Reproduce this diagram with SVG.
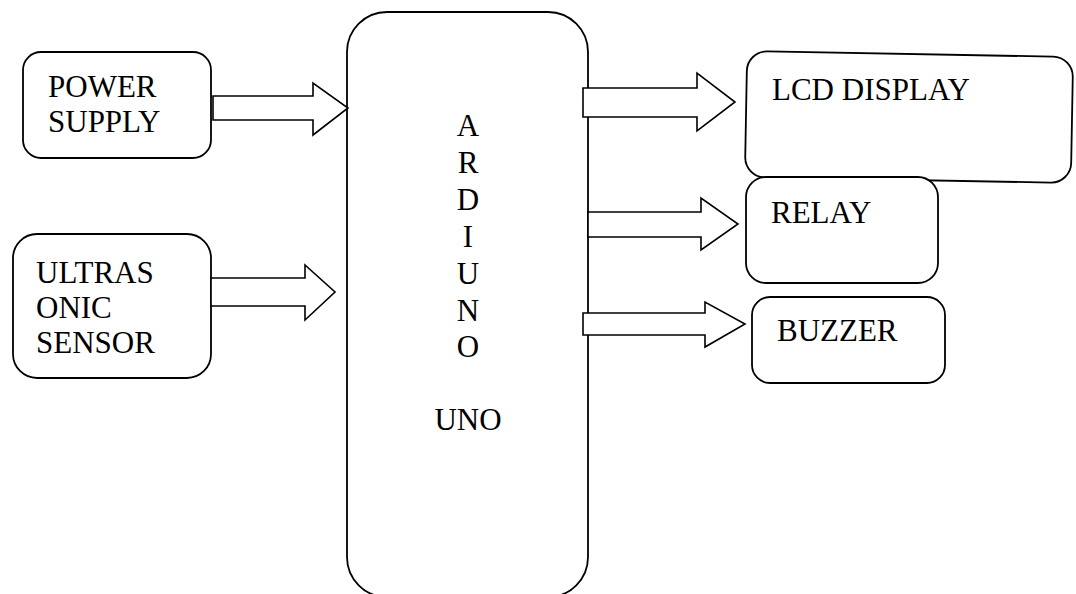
<svg xmlns="http://www.w3.org/2000/svg" width="1076" height="594" viewBox="0 0 1076 594">
<style>
.box{fill:#fff;stroke:#000;stroke-width:1.8}
.arr{fill:#fff;stroke:#000;stroke-width:1.6;stroke-linejoin:miter}
.c{text-anchor:middle}
</style>
<rect width="1076" height="594" fill="#fff"/>
<g font-family="Liberation Serif, Times New Roman, Tinos, DejaVu Serif, Noto Serif, serif" font-size="31" fill="#000">
<g id="arduino">
<rect class="box" x="347" y="12" width="241" height="585" rx="40"/>
<text class="c" x="468" y="136">A</text>
<text class="c" x="468" y="173">R</text>
<text class="c" x="468" y="210">D</text>
<text class="c" x="468" y="247">I</text>
<text class="c" x="468" y="284">U</text>
<text class="c" x="468" y="321">N</text>
<text class="c" x="468" y="357">O</text>
<text class="c" x="468" y="430">UNO</text>
</g>
<g id="power">
<rect class="box" x="23" y="52" width="188" height="106" rx="18"/>
<text x="48" y="97">POWER</text>
<text x="48" y="132">SUPPLY</text>
</g>
<g id="ultrasonic">
<rect class="box" x="13" y="234" width="198" height="144" rx="24"/>
<text x="36" y="283">ULTRAS</text>
<text x="36" y="318">ONIC</text>
<text x="36" y="353">SENSOR</text>
</g>
<g id="lcd">
<rect class="box" x="-163" y="-63" width="326" height="126" rx="20" transform="translate(909 117) rotate(1.05)"/>
<text x="772" y="100">LCD DISPLAY</text>
</g>
<g id="relay">
<rect class="box" x="746" y="177" width="192" height="106" rx="20"/>
<text x="771" y="223">RELAY</text>
</g>
<g id="buzzer">
<rect class="box" x="752" y="297" width="193" height="86" rx="18"/>
<text x="777" y="341">BUZZER</text>
</g>
</g>
<g id="connectors">
<polygon class="arr" points="213,96 313,96 313,83 348,108 313,135 313,120 213,120"/>
<polygon class="arr" points="211,278 305,278 305,265 335,292 305,320 305,306 211,306"/>
<polygon class="arr" points="583,88 697,88 697,73 735,102 697,131 697,117 583,117"/>
<polygon class="arr" points="588,212 701,212 701,198 738,224 701,250 701,237 588,237"/>
<polygon class="arr" points="583,313 705,313 705,302 745,324 705,347 705,335 583,335"/>
</g>
</svg>
